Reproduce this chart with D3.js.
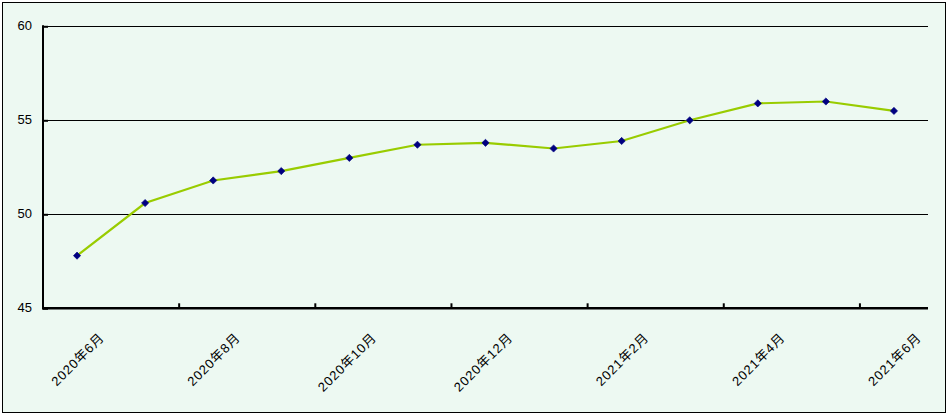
<!DOCTYPE html>
<html><head><meta charset="utf-8">
<script src="https://cdn.jsdelivr.net/npm/d3@7"></script>
<style>
html,body{margin:0;padding:0;background:#fff;}
svg{display:block;}
</style></head>
<body>
<svg id="chart" width="948" height="415"></svg>
<script>
const categories = ["2020年6月","2020年7月","2020年8月","2020年9月","2020年10月","2020年11月","2020年12月","2021年1月","2021年2月","2021年3月","2021年4月","2021年5月","2021年6月"];
const values = [47.8, 50.6, 51.8, 52.3, 53.0, 53.7, 53.8, 53.5, 53.9, 55.0, 55.9, 56.0, 55.5];
const yTicks = [45, 50, 55, 60];
const xLabels = ["2020年6月","2020年8月","2020年10月","2020年12月","2021年2月","2021年4月","2021年6月"];

(function(){
const svg = d3.select("#chart");
const W = 948, H = 415;
const font = "'Liberation Sans', 'Noto Sans CJK JP', sans-serif";

svg.append("rect").attr("x",2.5).attr("y",2.5).attr("width",W-5).attr("height",H-5)
  .attr("fill","#edf9f2").attr("stroke","#000").attr("stroke-width",1);

const pL = 43, pR = 928, pT = 26.3, pB = 308.3;
const x = d3.scaleBand().domain(categories).range([pL, pR]).paddingInner(0).paddingOuter(0);
const y = d3.scaleLinear().domain([45, 60]).range([pB, pT]);
const cx = d => x(d) + x.bandwidth()/2;

const g = svg.append("g");
// gridlines
g.selectAll("line.grid").data(yTicks.filter(d => d > 45)).join("line")
  .attr("x1", pL).attr("x2", pR)
  .attr("y1", d => Math.round(y(d)) + 0.5).attr("y2", d => Math.round(y(d)) + 0.5)
  .attr("stroke", "#000").attr("stroke-width", 1);

// y axis
const yAxis = d3.axisRight(y).tickValues(yTicks).tickSize(5).tickFormat("");
const ya = g.append("g").attr("transform", `translate(${pL},0)`).call(yAxis);
ya.select(".domain").remove();
ya.selectAll(".tick line").attr("stroke","#000").attr("stroke-width",2);
g.append("line").attr("x1", pL).attr("x2", pL).attr("y1", pT - 1).attr("y2", pB + 1)
  .attr("stroke","#000").attr("stroke-width",2);

g.selectAll("text.ylab").data(yTicks).join("text")
  .attr("x", 32).attr("y", d => y(d) - 1).attr("text-anchor","end").attr("dy","0.35em")
  .attr("font-family", font).attr("font-size", 13).attr("fill","#000").text(d => d);

// x axis line
g.append("line").attr("x1", pL - 1).attr("x2", pR).attr("y1", pB).attr("y2", pB)
  .attr("stroke","#000").attr("stroke-width",2.5);

// x ticks at every 2nd category boundary (inside)
const boundaries = categories.filter((c, i) => i > 0 && i % 2 === 0);
g.selectAll("line.xt").data(boundaries).join("line")
  .attr("x1", d => x(d)).attr("x2", d => x(d))
  .attr("y1", pB - 5).attr("y2", pB)
  .attr("stroke","#000").attr("stroke-width",2);

// x labels
g.selectAll("text.xlab").data(xLabels).join("text")
  .attr("transform", d => `translate(${cx(d) + 28},${pB + 30}) rotate(-45)`)
  .attr("text-anchor","end")
  .attr("letter-spacing","0.9px")
  .attr("font-family", font).attr("font-size", 13).attr("fill","#000").text(d => d);

// line
const line = d3.line().x((d, i) => cx(categories[i])).y(d => y(d));
g.append("path").datum(values).attr("d", line).attr("fill","none")
  .attr("stroke","#99cc00").attr("stroke-width",2.2);

// markers
g.selectAll("path.mk").data(values).join("path")
  .attr("transform", (d, i) => `translate(${cx(categories[i])},${y(d)}) rotate(45)`)
  .attr("d", d3.symbol().type(d3.symbolSquare).size(26))
  .attr("fill","#000080").attr("stroke","#000080").attr("stroke-width",0.6);
})();
</script>
</body></html>
